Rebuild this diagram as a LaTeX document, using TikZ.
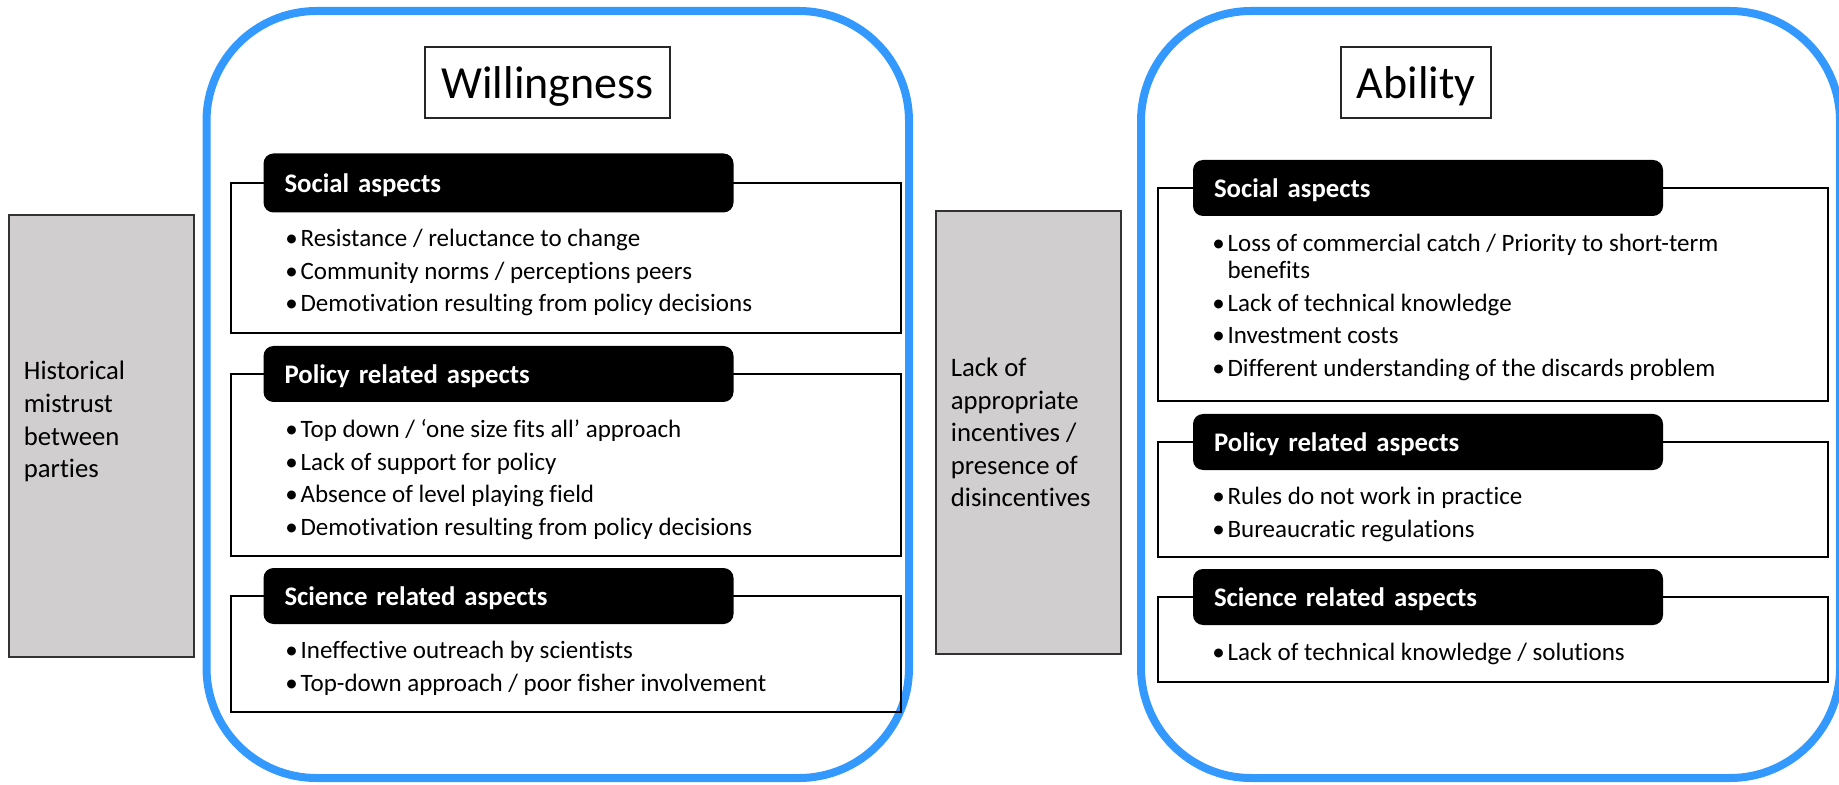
\documentclass[tikz,border=0pt]{standalone}
\usepackage{fontspec}
\setmainfont{Carlito}[Ligatures={NoCommon}]
\definecolor{panelblue}{RGB}{51,153,255}
\definecolor{boxgray}{RGB}{208,206,206}
\newcommand{\bul}{\makebox[7.6pt][l]{\textbullet}}
\newcommand{\ind}{\hspace*{7.6pt}}
\newcommand{\topstrut}{\rule{0pt}{10pt}}
\begin{document}
\begin{tikzpicture}[x=0.5pt, y=-0.5pt,
	panel/.style = {draw=panelblue, line width=4pt, rounded corners=55pt},
	title/.style = {draw=black!85, line width=0.7pt, inner sep=0, minimum height=35.5pt,
		font=\fontsize{23}{27}\selectfont, execute at begin node={\rule[-6pt]{0pt}{28pt}}},
	greybox/.style = {fill=boxgray, draw=black!80, line width=0.6pt, inner sep=0, outer sep=0,
		anchor=north west, minimum width=92.5pt},
	greytext/.style = {anchor=north west, inner sep=0, align=left, font=\fontsize{13.35}{16.3}\selectfont},
	listbox/.style = {draw, line width=1pt, inner sep=0, outer sep=0, anchor=north west, minimum width=335pt},
	head/.style = {fill=black, text=white, rounded corners=5pt, anchor=west, outer sep=0,
		inner xsep=10.5pt, inner ysep=0pt, text width=214pt, align=left, minimum height=28pt,
		font=\fontsize{13.4}{16}\selectfont\bfseries, execute at begin node={\rule[-3.5pt]{0pt}{16.4pt}}},
	items/.style = {anchor=north west, inner sep=0, align=left, font=\fontsize{12.5}{13.5}\selectfont}]
	
	\useasboundingbox (0,0) rectangle (1839,785);
	
	% left column
	\node[greybox, minimum height=221pt] (mistrust) at (9,215) {};
	\node[greytext] (mistrusttext) at (23.5,359.5) {\topstrut Historical\\ mistrust\\ between\\ parties};
	
	\draw[panel] (206.5,11) rectangle (909,778);
	\node[title, minimum width=122.5pt] (willtitle) at (547.5,82.5) {Willingness};
	
	\node[listbox, minimum height=75pt] (wsoc) at (230.5,183) {};
	\node[head, minimum height=29.5pt] (wsochead) at ([xshift=16.5pt]wsoc.north west) {Social aspects};
	\node[items] (wsoclist) at (285,226.5) {\topstrut\bul Resistance / reluctance to change\\[2.75pt]
		\bul Community norms / perceptions peers\\[2.75pt]
		\bul Demotivation resulting from policy decisions};
	
	\node[listbox, minimum height=91pt] (wpol) at (230.5,374) {};
	\node[head] (wpolhead) at ([xshift=16.5pt]wpol.north west) {Policy related aspects};
	\node[items] (wpollist) at (285,417.5) {\topstrut\bul Top down / ‘one size fits all’ approach\\[2.75pt]
		\bul Lack of support for policy\\[2.75pt]
		\bul Absence of level playing field\\[2.75pt]
		\bul Demotivation resulting from policy decisions};
	
	\node[listbox, minimum height=58pt] (wsci) at (230.5,596) {};
	\node[head] (wscihead) at ([xshift=16.5pt]wsci.north west) {Science related aspects};
	\node[items] (wscilist) at (285,638.5) {\topstrut\bul Ineffective outreach by scientists\\[2.75pt]
		\bul Top-down approach / poor fisher involvement};
	
	% right column
	\node[greybox, minimum height=221.5pt] (incent) at (936,211) {};
	\node[greytext] (incenttext) at (950.5,356) {\topstrut Lack of\\ appropriate\\ incentives /\\ presence of\\ disincentives};
	
	\draw[panel] (1141,11) rectangle (1840,778);
	\node[title, minimum width=75pt] (abiltitle) at (1416,82.5) {Ability};
	
	\node[listbox, minimum height=106.5pt] (asoc) at (1158,188) {};
	\node[head] (asochead) at ([xshift=17.5pt]asoc.north west) {Social aspects};
	\node[items] (asoclist) at (1212,231.5) {\topstrut\bul Loss of commercial catch / Priority to short-term\\
		\ind benefits\\[2.75pt]
		\bul Lack of technical knowledge\\[2.75pt]
		\bul Investment costs\\[2.75pt]
		\bul Different understanding of the discards problem};
	
	\node[listbox, minimum height=57.5pt] (apol) at (1158,442) {};
	\node[head] (apolhead) at ([xshift=17.5pt]apol.north west) {Policy related aspects};
	\node[items] (apollist) at (1212,484.5) {\topstrut\bul Rules do not work in practice\\[2.75pt]
		\bul Bureaucratic regulations};
	
	\node[listbox, minimum height=42.5pt] (asci) at (1158,597) {};
	\node[head] (ascihead) at ([xshift=17.5pt]asci.north west) {Science related aspects};
	\node[items] (ascilist) at (1212,640.5) {\topstrut\bul Lack of technical knowledge / solutions};
\end{tikzpicture}
\end{document}
